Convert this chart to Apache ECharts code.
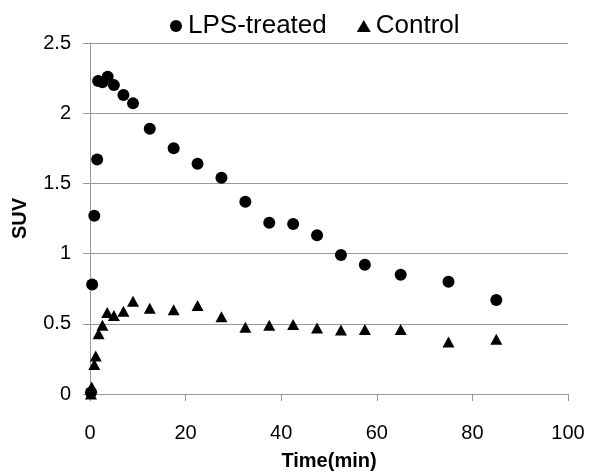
<!DOCTYPE html>
<html>
<head>
<meta charset="utf-8">
<script src="https://cdn.jsdelivr.net/npm/echarts@6/dist/echarts.min.js"></script>
<style>html,body{margin:0;padding:0;background:#fff}#c{width:600px;height:476px}</style>
</head>
<body>
<div id="c"></div>
<script>
const seriesNames = ['LPS-treated', 'Control'];
const lpsTime = [0.2, 0.45, 0.9, 1.5, 1.7, 2.6, 3.7, 5, 7, 9, 12.5, 17.5, 22.5, 27.5, 32.5, 37.5, 42.5, 47.5, 52.5, 57.5, 65, 75, 85];
const lpsSUV  = [0.01, 0.78, 1.27, 1.67, 2.23, 2.22, 2.26, 2.2, 2.13, 2.07, 1.89, 1.75, 1.64, 1.54, 1.37, 1.22, 1.21, 1.13, 0.99, 0.92, 0.85, 0.80, 0.67];
const ctlTime = [0.2, 0.35, 0.9, 1.2, 1.8, 2.6, 3.6, 5, 7, 9, 12.5, 17.5, 22.5, 27.5, 32.5, 37.5, 42.5, 47.5, 52.5, 57.5, 65, 75, 85];
const ctlSUV  = [0.0, 0.05, 0.21, 0.27, 0.43, 0.49, 0.58, 0.56, 0.59, 0.66, 0.61, 0.60, 0.63, 0.55, 0.475, 0.49, 0.495, 0.47, 0.455, 0.46, 0.46, 0.37, 0.39];
const xTitle = 'Time(min)';
const yTitle = 'SUV';

const FONT = 'Liberation Sans, Arial, sans-serif';
const chart = echarts.init(document.getElementById('c'), null, {renderer: 'canvas'});
const pair = (xs, ys) => xs.map((x, i) => [x, ys[i]]);
chart.setOption({
  animation: false,
  backgroundColor: '#fff',
  textStyle: {fontFamily: FONT},
  grid: {left: 90, right: 32, top: 43, bottom: 82},
  legend: {
    top: 8, left: 165,
    itemGap: 30, itemWidth: 14, itemHeight: 12,
    textStyle: {fontSize: 26, color: '#000', fontFamily: FONT},
    data: [
      {name: seriesNames[0], icon: 'circle'},
      {name: seriesNames[1], icon: 'triangle'}
    ]
  },
  xAxis: {
    type: 'value', min: 0, max: 100, interval: 20,
    name: xTitle, nameLocation: 'middle', nameGap: 57,
    nameTextStyle: {fontSize: 20, fontWeight: 'bold', color: '#000', fontFamily: FONT},
    axisLine: {show: true, lineStyle: {color: '#999', width: 1}},
    axisTick: {show: true, length: 7, lineStyle: {color: '#999'}},
    axisLabel: {fontSize: 20, color: '#000', margin: 29, fontFamily: FONT},
    splitLine: {show: false}
  },
  yAxis: {
    type: 'value', min: 0, max: 2.5, interval: 0.5,
    name: yTitle, nameLocation: 'middle', nameGap: 60, nameRotate: 90,
    nameTextStyle: {fontSize: 20, fontWeight: 'bold', color: '#000', fontFamily: FONT},
    axisLine: {show: true, lineStyle: {color: '#999', width: 1}},
    axisTick: {show: true, length: 7, lineStyle: {color: '#999'}},
    axisLabel: {fontSize: 20, color: '#000', margin: 19, fontFamily: FONT},
    splitLine: {show: true, lineStyle: {color: '#999', width: 1}}
  },
  series: [
    {name: seriesNames[0], type: 'scatter', symbol: 'circle', symbolSize: 12,
     itemStyle: {color: '#000', opacity: 1}, data: pair(lpsTime, lpsSUV)},
    {name: seriesNames[1], type: 'scatter', symbol: 'triangle', symbolSize: [12, 11],
     itemStyle: {color: '#000', opacity: 1}, data: pair(ctlTime, ctlSUV)}
  ]
});
</script>
</body>
</html>
